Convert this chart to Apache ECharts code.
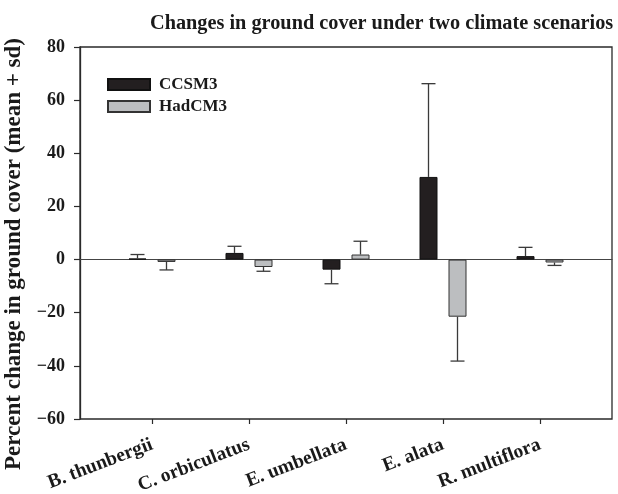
<!DOCTYPE html>
<html>
<head>
<meta charset="utf-8">
<script src="https://cdn.jsdelivr.net/npm/echarts@6/dist/echarts.min.js"></script>
<style>html,body{margin:0;padding:0;background:#fff}#c{width:618px;height:494px}</style>
</head>
<body>
<div id="c"></div>
<script>
var categories = ['B. thunbergii', 'C. orbiculatus', 'E. umbellata', 'E. alata', 'R. multiflora'];
var seriesNames = ['CCSM3', 'HadCM3'];
var ccsm3Mean = [0.4, 2.5, -3.8, 31.1, 1.3];
var ccsm3Sd = [1.5, 2.5, 5.3, 35.1, 3.3];
var hadcm3Mean = [-0.9, -2.8, 1.9, -21.5, -1.1];
var hadcm3Sd = [3.0, 1.6, 5.0, 16.7, 1.1];
var yTicks = [-60, -40, -20, 0, 20, 40, 60, 80];

var FONT = '"Liberation Serif", "Times New Roman", serif';
var BAR_W = 18, BAR_GAP = 11;
var OFF = (BAR_W + BAR_GAP) / 2;

function errData(mean, sd) {
  return mean.map(function (m, i) {
    var dir = m < 0 ? -1 : 1;
    return [i, m, m + dir * sd[i]];
  });
}
function errSeries(name, mean, sd, side) {
  return {
    type: 'custom', name: name + ' sd', xAxisIndex: 1, yAxisIndex: 1, z: 3,
    data: errData(mean, sd),
    renderItem: function (params, api) {
      var p0 = api.coord([api.value(0), api.value(1)]);
      var p1 = api.coord([api.value(0), api.value(2)]);
      var x = p0[0] + side * OFF;
      var cw = 7;
      var st = { stroke: '#3a3a3a', lineWidth: 1.3 };
      return {
        type: 'group', children: [
          { type: 'line', shape: { x1: x, y1: p0[1], x2: x, y2: p1[1] }, style: st },
          { type: 'line', shape: { x1: x - cw, y1: p1[1], x2: x + cw, y2: p1[1] }, style: st }
        ]
      };
    }
  };
}

var chart = echarts.init(document.getElementById('c'), null, { renderer: 'canvas' });
chart.setOption({
  animation: false,
  backgroundColor: '#fff',
  title: {
    text: 'Changes in ground cover under two climate scenarios',
    left: 145, top: 9,
    textStyle: { fontFamily: FONT, fontWeight: 'bold', fontSize: 20.3, color: '#1a1a1a' }
  },
  legend: {
    orient: 'vertical', left: 107, top: 76, padding: 0, itemWidth: 42, itemHeight: 11, itemGap: 5,
    icon: 'rect',
    data: seriesNames,
    textStyle: { fontFamily: FONT, fontWeight: 'bold', fontSize: 17, color: '#1a1a1a', padding: [0, 0, 0, 4] }
  },
  grid: [
    { left: 80, right: 6, top: 47, bottom: 75, containLabel: false, outerBoundsMode: 'none',
      show: true, borderColor: '#2a2a2a', borderWidth: 1.3, backgroundColor: 'transparent' },
    { left: 103.5, right: 29.5, top: 47, bottom: 75, containLabel: false, outerBoundsMode: 'none' }
  ],
  xAxis: [
    { type: 'value', gridIndex: 0, min: 0, max: 1, axisLabel: { show: false }, axisTick: { show: false }, splitLine: { show: false },
      axisLine: { show: true, onZero: true, lineStyle: { color: '#444', width: 1.2 } } },
    { type: 'category', gridIndex: 1, data: categories,
      axisLine: { show: false, onZero: false },
      axisTick: { show: true, alignWithLabel: true, length: 5, lineStyle: { color: '#2a2a2a', width: 1.2 } },
      axisLabel: { rotate: 21, margin: 25, fontFamily: FONT, fontWeight: 'bold', fontSize: 19.5, color: '#1a1a1a' } }
  ],
  yAxis: [
    { type: 'value', gridIndex: 0, min: -60, max: 80, interval: 20,
      name: 'Percent change in ground cover (mean + sd)', nameLocation: 'middle', nameGap: 50,
      nameTextStyle: { fontFamily: FONT, fontWeight: 'bold', fontSize: 23, color: '#1a1a1a', padding: [0, 42, 0, 0] },
      axisLine: { show: true, onZero: false, lineStyle: { color: '#2a2a2a', width: 1.3 } },
      axisTick: { show: true, length: 6, lineStyle: { color: '#2a2a2a', width: 1.2 } },
      splitLine: { show: false },
      axisLabel: { margin: 15, fontFamily: FONT, fontWeight: 'bold', fontSize: 18, color: '#1a1a1a',
        formatter: function (v) { return yTicks.indexOf(v) >= 0 ? String(v).replace('-', '\u2212') : ''; } } },
    { type: 'value', gridIndex: 1, min: -60, max: 80, interval: 20, show: false, splitLine: { show: false } }
  ],
  series: [
    { type: 'bar', name: 'CCSM3', xAxisIndex: 1, yAxisIndex: 1, data: ccsm3Mean, barWidth: BAR_W, barGap: (BAR_GAP / BAR_W * 100) + '%',
      itemStyle: { color: '#231f20', borderColor: '#111', borderWidth: 1 } },
    { type: 'bar', name: 'HadCM3', xAxisIndex: 1, yAxisIndex: 1, data: hadcm3Mean, barWidth: BAR_W,
      itemStyle: { color: '#bcbec0', borderColor: '#333', borderWidth: 1 } },
    errSeries('CCSM3', ccsm3Mean, ccsm3Sd, -1),
    errSeries('HadCM3', hadcm3Mean, hadcm3Sd, 1)
  ]
});
</script>
</body>
</html>
